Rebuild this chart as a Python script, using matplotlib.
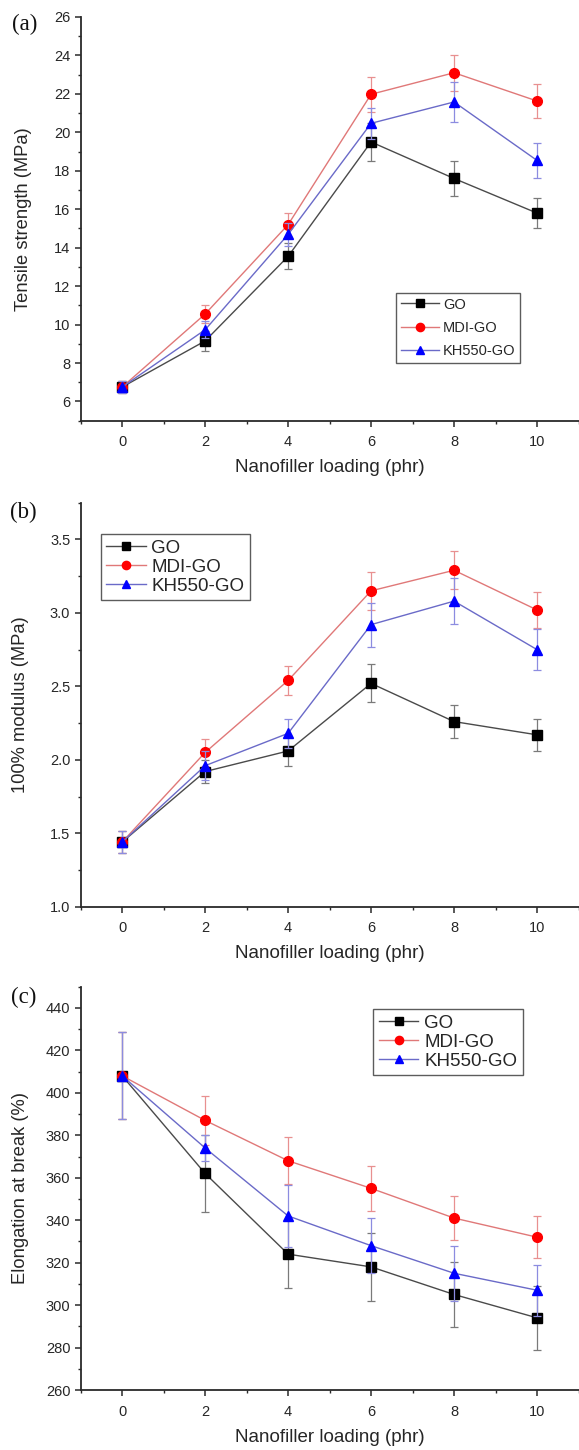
import matplotlib
matplotlib.use("Agg")
import matplotlib.pyplot as plt
from matplotlib import font_manager
from matplotlib.ticker import MultipleLocator, FormatStrFormatter

plt.rcParams['font.family'] = ['Liberation Sans', 'DejaVu Sans']

loading = [0, 2, 4, 6, 8, 10]
series_names = ["GO", "MDI-GO", "KH550-GO"]

# (a) Tensile strength (MPa)
ts_go = [6.75, 9.15, 13.55, 19.5, 17.6, 15.8]
ts_mdi = [6.75, 10.55, 15.2, 21.98, 23.1, 21.63]
ts_kh = [6.75, 9.73, 14.69, 20.47, 21.58, 18.54]
ts_go_err = [0.3, 0.5, 0.68, 1.0, 0.9, 0.8]
ts_mdi_err = [0.3, 0.45, 0.63, 0.9, 0.93, 0.87]
ts_kh_err = [0.3, 0.45, 0.6, 0.8, 1.05, 0.92]

# (b) 100% modulus (MPa)
md_go = [1.44, 1.92, 2.06, 2.52, 2.26, 2.17]
md_mdi = [1.44, 2.05, 2.54, 3.15, 3.29, 3.02]
md_kh = [1.44, 1.96, 2.18, 2.92, 3.08, 2.75]
md_go_err = [0.075, 0.08, 0.1, 0.13, 0.11, 0.11]
md_mdi_err = [0.075, 0.09, 0.1, 0.13, 0.13, 0.12]
md_kh_err = [0.075, 0.1, 0.1, 0.15, 0.155, 0.14]

# (c) Elongation at break (%)
el_go = [408, 362, 324, 318, 305, 294]
el_mdi = [408, 387, 368, 355, 341, 332]
el_kh = [408, 374, 342, 328, 315, 307]
el_go_err = [20.5, 18, 16, 16, 15.4, 15]
el_mdi_err = [20.5, 11.7, 11, 10.7, 10.3, 10]
el_kh_err = [20.5, 6, 14.4, 13, 13, 12]

xlabel = "Nanofiller loading (phr)"
ylabels = ["Tensile strength (MPa)", "100% modulus (MPa)", "Elongation at break (%)"]
panel_tags = ["(a)", "(b)", "(c)"]

styles = [
    dict(marker='s', mfc='black', mec='black', lc='#4a4a4a', ec='#7a7a7a'),
    dict(marker='o', mfc='#ff0000', mec='#ff0000', lc='#e07878', ec='#e89090'),
    dict(marker='^', mfc='#0000ff', mec='#0000ff', lc='#6a6ac8', ec='#8c8ce0'),
]

W, H = 579, 1450
fig = plt.figure(figsize=(W / 100, H / 100), dpi=100)

def ax_rect(top_px, bot_px, left_px=80.7, right_px=578.5):
    return [left_px / W, 1 - bot_px / H, (right_px - left_px) / W, (bot_px - top_px) / H]

leg_a = dict(fs=10.5, ls=0.65, hl=2.6)
leg_std = dict(fs=13.5, ls=0.1, hl=2.1)

panels = [
    dict(rect=ax_rect(17, 420.7), ylim=(5, 26), major=2, minor=1,
         data=[(ts_go, ts_go_err), (ts_mdi, ts_mdi_err), (ts_kh, ts_kh_err)],
         leg=(0.634, 0.316), fmt=None, legstyle=leg_a),
    dict(rect=ax_rect(502.7, 906.7), ylim=(1.0, 3.75), major=0.5, minor=0.25,
         data=[(md_go, md_go_err), (md_mdi, md_mdi_err), (md_kh, md_kh_err)],
         leg=(0.04, 0.9225), fmt='%.1f', legstyle=leg_std),
    dict(rect=ax_rect(986.7, 1390), ylim=(260, 450), major=20, minor=10,
         data=[(el_go, el_go_err), (el_mdi, el_mdi_err), (el_kh, el_kh_err)],
         leg=(0.588, 0.945), fmt=None, legstyle=leg_std),
]

tag_xy = [(12, 24), (10, 512), (11, 997)]
xlabel_y = [468, 953, 1437]
ylabel_x = [-0.098, -0.104, -0.104]
txt_col = '#262626'

for i, p in enumerate(panels):
    ax = fig.add_axes(p['rect'])
    for j, (vals, errs) in enumerate(p['data']):
        s = styles[j]
        ax.errorbar(loading, vals, yerr=errs, fmt='none', ecolor=s['ec'],
                    elinewidth=0.9, capsize=3, capthick=0.9, zorder=2 + j)
        ax.plot(loading, vals, color=s['lc'], lw=1.0, marker=s['marker'],
                mfc=s['mfc'], mec=s['mec'], ms=7, label=series_names[j],
                zorder=3 + j)
    ax.set_xlim(-1, 11)
    ax.set_ylim(*p['ylim'])
    ax.xaxis.set_major_locator(MultipleLocator(2))
    ax.xaxis.set_minor_locator(MultipleLocator(1))
    ax.yaxis.set_major_locator(MultipleLocator(p['major']))
    ax.yaxis.set_minor_locator(MultipleLocator(p['minor']))
    if p['fmt']:
        ax.yaxis.set_major_formatter(FormatStrFormatter(p['fmt']))
    for side in ['top', 'right']:
        ax.spines[side].set_visible(False)
    for side in ['left', 'bottom']:
        ax.spines[side].set_linewidth(1.3)
        ax.spines[side].set_color('#2a2a2a')
    ax.tick_params(which='major', direction='out', length=4.5, width=1.1,
                   color='#2a2a2a', labelsize=10.5, labelcolor=txt_col, pad=3)
    ax.tick_params(which='minor', direction='out', length=2.5, width=1.0,
                   color='#2a2a2a')
    ax.tick_params(axis='x', pad=6)
    ax.set_ylabel(ylabels[i], fontsize=13.2, color=txt_col)
    ax.yaxis.set_label_coords(ylabel_x[i], 0.5)
    fig.text(0.5 * (80.7 + 578.5) / W, 1 - xlabel_y[i] / H, xlabel,
             ha='center', va='center', fontsize=13.5, color=txt_col)
    fig.text(tag_xy[i][0] / W, 1 - tag_xy[i][1] / H, panel_tags[i], ha='left',
             va='center', fontsize=16.5, family='Liberation Serif', color='#111111')
    ls = p['legstyle']
    leg = ax.legend(loc='upper left', bbox_to_anchor=p['leg'], borderaxespad=0,
                    fontsize=ls['fs'], frameon=True, fancybox=False,
                    handlelength=ls['hl'], handletextpad=0.3,
                    labelspacing=ls['ls'], borderpad=0.3, markerscale=0.85)
    leg.get_frame().set_edgecolor('#333333')
    leg.get_frame().set_linewidth(1.0)
    for t in leg.get_texts():
        t.set_color(txt_col)

fig.savefig("out.png", dpi=100)
